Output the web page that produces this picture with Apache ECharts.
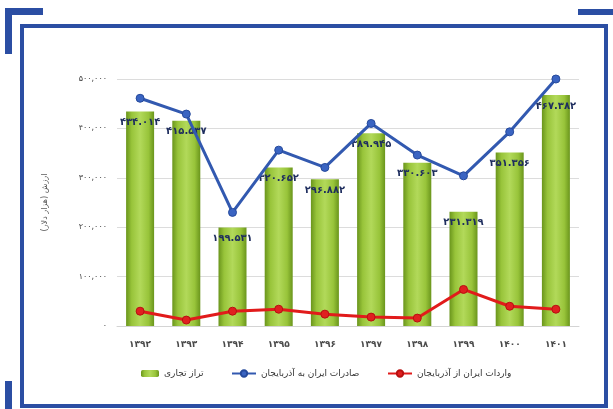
<!DOCTYPE html>
<html>
<head>
<meta charset="utf-8">
<title>chart</title>
<style>
  html, body { margin: 0; padding: 0; background: #fff; }
  #main { width: 613px; height: 409px; }
</style>
</head>
<body>
<div id="main"></div>
<script type="text/javascript" src="https://cdn.jsdelivr.net/npm/echarts@6/dist/echarts.min.js"></script>
<script type="text/javascript">
// سال‌ها
var years = ['۱۳۹۲', '۱۳۹۳', '۱۳۹۴', '۱۳۹۵', '۱۳۹۶', '۱۳۹۷', '۱۳۹۸', '۱۳۹۹', '۱۴۰۰', '۱۴۰۱'];
// تراز تجاری (هزار دلار)
var balance = [434014, 415537, 199531, 320652, 296882, 389945, 330603, 231319, 351356, 467382];
// صادرات ایران به آذربایجان
var exportsIR = [461000, 429000, 230000, 356000, 321000, 410000, 346000, 304000, 393000, 500000];
// واردات ایران از آذربایجان
var importsIR = [30000, 12000, 30000, 34000, 24000, 18000, 16000, 74000, 40000, 34000];

var nameBalance = 'تراز تجاری';
var nameExports = 'صادرات ایران به آذربایجان';
var nameImports = 'واردات ایران از آذربایجان';
var yTitle = 'ارزش (هزار دلار)';

var FONT = 'DejaVu Sans';

function fa(s) {
  return String(s).replace(/\d/g, function (d) { return '۰۱۲۳۴۵۶۷۸۹'[d]; });
}
function group(v, sep) {
  return String(v).replace(/\B(?=(\d{3})+(?!\d))/g, sep);
}

var myChart = echarts.init(document.getElementById('main'));
var blue = '#3259b0';
var frame = '#2b4ea3';

var option = {
  backgroundColor: '#fff',
  animation: false,
  textStyle: { fontFamily: FONT },
  grid: { left: 117, right: 34, top: 79, bottom: 83 },
  legend: [
    { left: 136, top: 364, itemWidth: 18, itemHeight: 7, data: [nameBalance],
      textStyle: { fontSize: 9, color: '#333', fontFamily: FONT } },
    { left: 226, top: 364, itemWidth: 24, itemHeight: 8, data: [nameExports],
      textStyle: { fontSize: 9, color: '#333', fontFamily: FONT } },
    { left: 382, top: 364, itemWidth: 24, itemHeight: 8, data: [nameImports],
      textStyle: { fontSize: 9, color: '#333', fontFamily: FONT } }
  ],
  xAxis: {
    type: 'category',
    data: years,
    axisLine: { lineStyle: { color: '#d4d4d4', width: 1 } },
    axisTick: { show: false },
    axisLabel: { color: '#4a4a4a', fontSize: 9, fontWeight: 'bold', margin: 14, fontFamily: FONT }
  },
  yAxis: {
    type: 'value',
    min: 0,
    max: 500000,
    interval: 100000,
    name: yTitle,
    nameLocation: 'middle',
    nameRotate: 90,
    nameGap: 68,
    nameTextStyle: { fontSize: 8, color: '#555', fontFamily: FONT },
    axisLine: { show: false },
    axisTick: { show: false },
    splitLine: { lineStyle: { color: '#dcdcdc', width: 1 } },
    axisLabel: {
      color: '#444', fontSize: 8, margin: 10, fontFamily: FONT,
      formatter: function (v) { return fa(group(v, ',')); }
    }
  },
  series: [
    {
      name: nameBalance,
      type: 'bar',
      data: balance,
      barWidth: 28,
      z: 1,
      itemStyle: {
        color: new echarts.graphic.LinearGradient(0, 0, 1, 0, [
          { offset: 0, color: '#6a951c' },
          { offset: 0.2, color: '#98c43a' },
          { offset: 0.5, color: '#b2d95a' },
          { offset: 0.8, color: '#98c43a' },
          { offset: 1, color: '#6a951c' }
        ])
      },
      label: {
        show: true,
        position: 'insideTop',
        distance: 6,
        color: '#1e2d5e',
        fontSize: 10,
        fontWeight: 'bold',
        fontFamily: FONT,
        formatter: function (p) { return fa(group(p.value, '.')); }
      }
    },
    {
      name: nameExports,
      type: 'line',
      data: exportsIR,
      z: 3,
      clip: false,
      symbol: 'circle',
      symbolSize: 8,
      lineStyle: { color: blue, width: 3 },
      itemStyle: { color: '#3a64c2', borderColor: '#264a9c', borderWidth: 1 }
    },
    {
      name: nameImports,
      type: 'line',
      data: importsIR,
      z: 4,
      clip: false,
      symbol: 'circle',
      symbolSize: 8,
      lineStyle: { color: '#e11b1b', width: 3 },
      itemStyle: { color: '#e02020', borderColor: '#b81010', borderWidth: 1 }
    }
  ],
  graphic: [
    { type: 'rect', shape: { x: 22, y: 26, width: 584, height: 380 },
      style: { fill: 'none', stroke: frame, lineWidth: 4 }, silent: true },
    { type: 'rect', shape: { x: 5, y: 8, width: 38, height: 7 }, style: { fill: frame }, silent: true },
    { type: 'rect', shape: { x: 5, y: 8, width: 7, height: 46 }, style: { fill: frame }, silent: true },
    { type: 'rect', shape: { x: 578, y: 9, width: 35, height: 6 }, style: { fill: frame }, silent: true },
    { type: 'rect', shape: { x: 5, y: 381, width: 7, height: 28 }, style: { fill: frame }, silent: true }
  ]
};
myChart.setOption(option);
</script>
</body>
</html>
